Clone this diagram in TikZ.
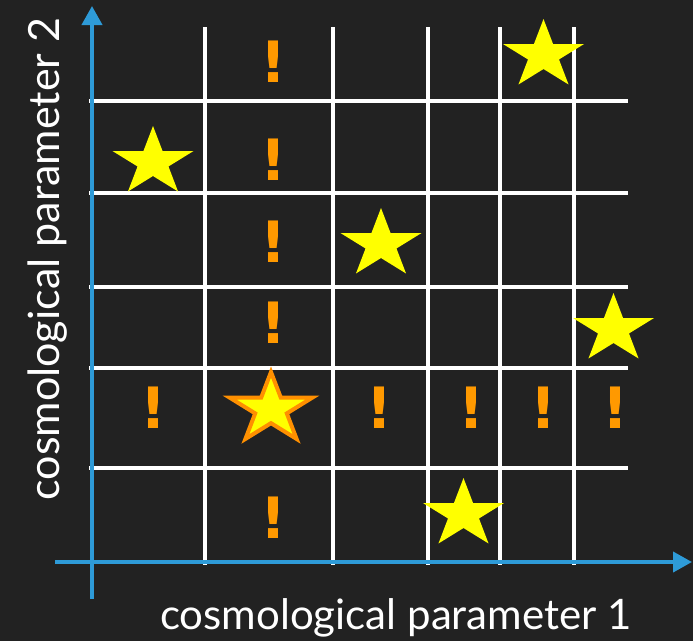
\documentclass[tikz,border=0pt]{standalone}
\usepackage{fontspec}
\setmainfont{Lato}
\newfontfamily\exfont{DejaVu Sans}
\usetikzlibrary{arrows.meta,shapes.geometric}
\definecolor{bg}{HTML}{222222}
\definecolor{axisblue}{HTML}{2E9BD8}
\definecolor{staryellow}{HTML}{FFFF00}
\definecolor{exorange}{HTML}{FF9900}
\definecolor{starorange}{HTML}{FF9000}
\begin{document}
\begin{tikzpicture}[x=1pt,y=-1pt,
  gridline/.style={white,line width=4pt},
  axisline/.style={axisblue,line width=4pt,-{Triangle[length=19pt,width=20pt]}},
  starnode/.style={star,star points=5,star point ratio=2.618,minimum size=72.4pt,inner sep=0pt,outer sep=0pt,fill=staryellow,draw=none,xscale=1.177,transform shape},
  beststar/.style={starnode,minimum size=74pt,draw=starorange,line width=4pt,miter limit=10},
  excl/.style={text=exorange,font=\exfont\bfseries\fontsize{57}{57}\selectfont,inner sep=0pt},
  axlabel/.style={text=white,font=\fontsize{42}{42}\selectfont,inner sep=0pt,anchor=base}]
\fill[bg] (0,0) rectangle (693,641);
\useasboundingbox (0,0) rectangle (693,641);
% grid
\foreach \gx in {205,333,428,500,574} \draw[gridline] (\gx,27) -- (\gx,565);
\foreach \gy in {101,193,287,368,468} \draw[gridline] (89,\gy) -- (628,\gy);
% axes
\coordinate (xs) at (55,562);
\coordinate (xe) at (692,562);
\coordinate (ys) at (92,599);
\coordinate (ye) at (92,6);
\draw[axisline] (xs) -- (xe);
\draw[axisline] (ys) -- (ye);
% labels
\node[axlabel] (lx) at (396,629) {cosmological parameter 1};
\node[axlabel,rotate=90,font=\fontsize{43}{43}\selectfont] (ly) at (59,259) {cosmological parameter 2};
% exclamation marks
\node[excl] (e1) at (273.5,61.5) {!};
\node[excl] (e2) at (273.5,159.5) {!};
\node[excl] (e3) at (273.5,242) {!};
\node[excl] (e4) at (273.5,323) {!};
\node[excl] (e5) at (273.5,518) {!};
\node[excl] (e6) at (153,408) {!};
\node[excl] (e7) at (379,408) {!};
\node[excl] (e8) at (471,408) {!};
\node[excl] (e9) at (543,408) {!};
\node[excl] (e10) at (615,408) {!};
% stars
\node[starnode] (s1) at (153,162.2) {};
\node[starnode] (s2) at (543.5,55.2) {};
\node[starnode] (s3) at (381,244.2) {};
\node[starnode] (s4) at (613.5,329.2) {};
\node[starnode] (s5) at (463.5,514.2) {};
\node[beststar] (s6) at (271,409) {};
\end{tikzpicture}
\end{document}
